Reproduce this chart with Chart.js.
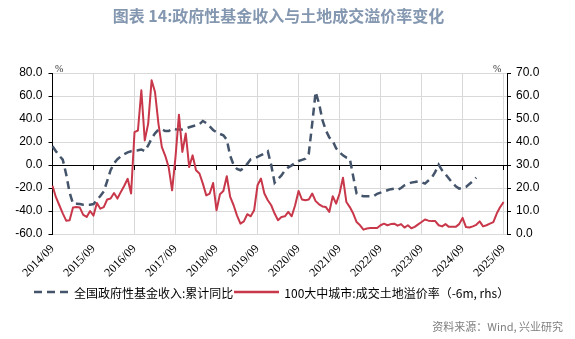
<!DOCTYPE html>
<html>
<head>
    <meta charset="utf-8">
    <title>政府性基金收入与土地成交溢价率变化</title>
    <script src="https://cdn.jsdelivr.net/npm/chart.js"></script>
    <style>
        body { margin: 0; background: #fff; }
        .wrap { position: relative; width: 575px; height: 339px; overflow: hidden; }
        #chart { position: absolute; left: 0; top: 0; }
        .title {
            position: absolute; left: 0; top: 3px; width: 557px;
            text-align: center; line-height: 22px;
            font: bold 16px "Noto Sans CJK SC", sans-serif; color: #8497B0;
        }
        .unit { position: absolute; top: 63px; font: 10px "Liberation Serif", serif; color: #333; }
        .legend {
            position: absolute; left: 34px; top: 283px; height: 18px;
            display: flex; align-items: center;
            font: 12px "Noto Sans CJK SC", sans-serif; color: #000; white-space: nowrap;
        }
        .legend svg { display: block; }
        .source {
            position: absolute; right: 12px; top: 318px;
            font: 11px "Noto Sans CJK SC", sans-serif; color: #7F7F7F;
        }
    </style>
</head>
<body>
<div class="wrap">
    <canvas id="chart" width="575" height="339"></canvas>
    <div class="title">图表 14:政府性基金收入与土地成交溢价率变化</div>
    <span class="unit" style="left:55px">%</span>
    <span class="unit" style="left:493px">%</span>
    <div class="legend">
        <svg width="40" height="6"><line x1="0" y1="3" x2="34" y2="3" stroke="#44546A" stroke-width="2.5" stroke-dasharray="8 5"/></svg>
        <span>全国政府性基金收入:累计同比</span>
        <svg width="50" height="6" style="margin-left:1px"><line x1="0" y1="3" x2="45" y2="3" stroke="#C8374A" stroke-width="2.5"/></svg>
        <span>100大中城市:成交土地溢价率（-6m, rhs）</span>
    </div>
    <div class="source">资料来源：Wind, 兴业研究</div>
</div>

<script>
    // monthly axis, 2014/09 .. 2025/10
    const months = [];
    for (let y = 2014, m = 9; y < 2025 || m <= 10; ) {
        months.push(y + '/' + String(m).padStart(2, '0'));
        m++;
        if (m > 12) { m = 1; y++; }
    }

    // 全国政府性基金收入:累计同比 (%), from 2014/09
    const fundRevenueYoY = [
        16.3, 12, 8, 4.7, -8, -24, -33.6, -33.6, -34, -34.5,
        -34.5, -34.5, -34, -30.5, -27, -23, -14, -4.5, 1.5, 5,
        7.5, 9.5, 11, 12, 12.5, 12.8, 13.5, 12, 17, 23,
        27.5, 30.8, 31, 29.5, 29.5, 31.6, 31, 30.8, 30.8, 31.5,
        32.8, 33.7, 34.5, 35.5, 38.3, 36.5, 33.5, 30.5, 28.5, 27,
        25.8, 22, 8, 0, -3.5, -4.6, -2.5, 1, 5, 6,
        7, 8.5, 10, 11.9, 0, -15.5, -12, -9, -4.6, -2,
        -0.3, 2, 3.5, 4.5, 5.5, 10, 36, 63.5, 53.4, 39,
        30, 24, 21, 14.5, 11, 8.4, 6.5, 5.5, -10, -25,
        -26.5, -27.2, -27.2, -27.2, -27.2, -25, -24, -23, -22, -21,
        -20.5, -21.5, -20, -17.7, -16.5, -15.3, -14.8, -14.2, -15, -16.2,
        -13.5, -11, -6, 0.3, -4.6, -8, -11.8, -15.5, -18.5, -20.5,
        -20, -19, -16.5, -14, -11
    ];

    // 100大中城市:成交土地溢价率, shifted 6 months (%), right axis
    const landPremium = [
        21, 16, 12.5, 9, 5.8, 6, 11.5, 11.7, 11.5, 8.3,
        7.4, 10, 8, 13.5, 11, 11.7, 15, 15.4, 17.8, 15.4,
        18.3, 21, 24, 17.6, 44.3, 45, 62.5, 40.7, 48, 66.8,
        61.7, 48, 37.8, 34, 29, 19, 33.5, 51.9, 35.7, 43.7,
        29.1, 34.2, 27.7, 26.3, 21.9, 16.8, 17.6, 22.2, 10.3, 17.3,
        18.7, 25.1, 16.1, 12.5, 8, 4.5, 5.5, 8.6, 7.7, 10.3,
        21.2, 24.1, 17.6, 14.7, 12.5, 8.9, 6, 7.4, 7.7, 9.6,
        7.7, 12.5, 18.7, 15, 14.7, 15, 17.6, 14.3, 12.9, 12,
        11.7, 9.6, 16.4, 13.2, 17.6, 24.5, 13.9, 11.7, 8.9, 5.2,
        3.8, 1.9, 2.4, 2.6, 2.6, 2.6, 3.8, 4.5, 3.8, 4.3,
        4.5, 3.6, 4.3, 2.8, 3.8, 2.5, 3.1, 4.2, 5.2, 6.3,
        5.8, 5.6, 5.6, 3.8, 3.3, 4.3, 3.1, 3.1, 3.1, 4.3,
        7, 3, 2.8, 3.3, 4, 5.5, 3.3, 3.8, 4.5, 5.2,
        8.9, 11.7, 13.9
    ];

    // keep only the September of each year on the time axis
    const yearOnly = scale => {
        scale.ticks = scale.ticks.filter(t => t.value % 12 === 0);
    };
    const oneDecimal = v => Number(v).toFixed(1);

    Chart.defaults.color = '#000';
    Chart.defaults.font.family = '"Liberation Sans", sans-serif';

    const ctx = document.getElementById('chart').getContext('2d');
    const chart = new Chart(ctx, {
        type: 'line',
        data: {
            labels: months,
            datasets: [{
                label: '全国政府性基金收入:累计同比',
                data: fundRevenueYoY,
                yAxisID: 'y',
                borderColor: '#44546A',
                borderWidth: 2.5,
                borderDash: [8, 5],
                pointRadius: 0,
                order: 1
            }, {
                label: '100大中城市:成交土地溢价率（-6m, rhs）',
                data: landPremium,
                yAxisID: 'y1',
                borderColor: '#C8374A',
                borderWidth: 2,
                borderJoinStyle: 'round',
                pointRadius: 0,
                order: 0
            }]
        },
        options: {
            responsive: false,
            animation: false,
            layout: { padding: { top: 73, left: 0, right: 0, bottom: 0 } },
            plugins: {
                legend: { display: false },
                tooltip: { enabled: false }
            },
            scales: {
                x: {
                    type: 'category',
                    offset: false,
                    afterBuildTicks: yearOnly,
                    afterFit: s => { s.height = 105; },
                    grid: { color: '#D9D9D9', drawTicks: false },
                    border: { color: '#D9D9D9' },
                    ticks: {
                        autoSkip: false,
                        minRotation: 45,
                        maxRotation: 45,
                        padding: 8,
                        font: { family: '"Liberation Serif", serif', size: 12 }
                    }
                },
                // black zero line with year tick marks
                zero: {
                    axis: 'x',
                    type: 'category',
                    position: { y: 0 },
                    offset: false,
                    z: 1,
                    afterBuildTicks: yearOnly,
                    grid: { drawOnChartArea: false, tickLength: 4, tickColor: '#000' },
                    border: { color: '#000', width: 1 },
                    ticks: { display: false }
                },
                y: {
                    position: 'left',
                    min: -60,
                    max: 80,
                    afterFit: s => { s.width = 52.5; },
                    grid: { color: '#D9D9D9', tickLength: 4, tickColor: '#000' },
                    border: { color: '#000' },
                    ticks: { stepSize: 20, padding: 6, callback: oneDecimal, font: { size: 12 } }
                },
                y1: {
                    position: 'right',
                    min: 0,
                    max: 70,
                    afterFit: s => { s.width = 68; },
                    grid: { drawOnChartArea: false, tickLength: 4, tickColor: '#000' },
                    border: { color: '#000' },
                    ticks: { stepSize: 10, padding: 5, callback: oneDecimal, font: { size: 12 } }
                }
            }
        }
    });
</script>
</body>
</html>
